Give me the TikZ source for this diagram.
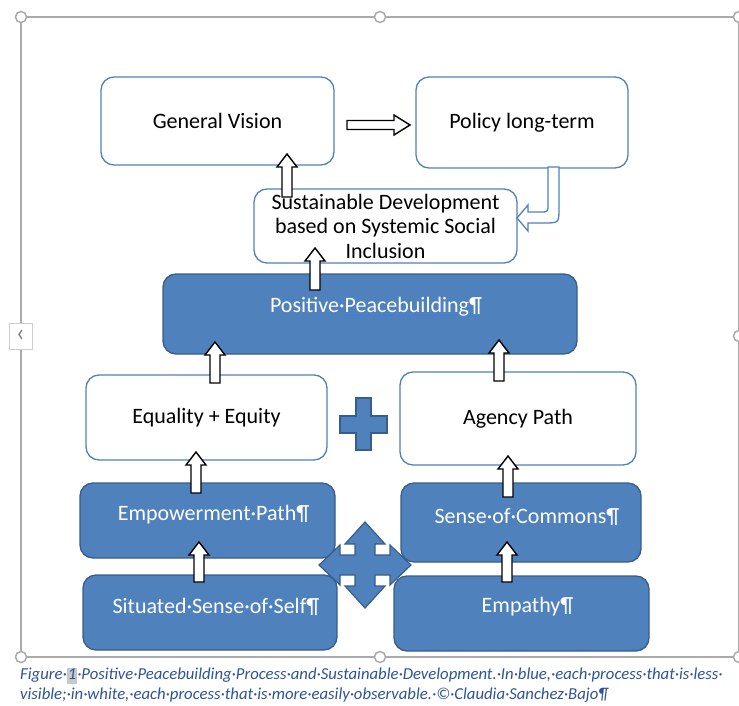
\documentclass[tikz,border=0pt]{standalone}
\usepackage{fontspec}
\setmainfont{Carlito}
\usetikzlibrary{positioning, calc}
\definecolor{procblue}{RGB}{79,129,189}
\definecolor{procedge}{RGB}{56,93,138}
\definecolor{framegray}{RGB}{171,171,171}
\definecolor{tabgray}{RGB}{205,205,205}
\definecolor{captionblue}{RGB}{46,84,150}
\definecolor{markgray}{RGB}{200,200,200}
\definecolor{markblue}{RGB}{70,120,225}
\newsavebox{\markbox}
\newcommand{\spellmark}[1]{\sbox{\markbox}{#1}\rlap{\color{markblue}\rule[-3pt]{\wd\markbox}{0.8pt}}\usebox{\markbox}}
\newcommand{\hlnum}[1]{{\setlength{\fboxsep}{1pt}\colorbox{markgray}{\vphantom{Fg}#1}}}
% block arrow pointing up, from a start coordinate to a tip coordinate
\newcommand{\blockup}[2]{%
  \draw[blockarrow] let \p1=(#1), \p2=(#2) in
    (\x1-5pt,\y1) -- (\x1-5pt,\y2-13pt) -- (\x1-10pt,\y2-13pt) -- (\x1,\y2)
    -- (\x1+10pt,\y2-13pt) -- (\x1+5pt,\y2-13pt) -- (\x1+5pt,\y1) -- cycle;}
% block arrow pointing right
\newcommand{\blockright}[2]{%
  \draw[blockarrow] let \p1=(#1), \p2=(#2) in
    (\x1,\y1+4.5pt) -- (\x2-16pt,\y1+4.5pt) -- (\x2-16pt,\y1+10pt) -- (\x2,\y1)
    -- (\x2-16pt,\y1-10pt) -- (\x2-16pt,\y1-4.5pt) -- (\x1,\y1-4.5pt) -- cycle;}
\tikzset{
x=1pt, y=-1pt, % screen pixels, y going down
every node/.style={font=\fontsize{22}{24.5}\selectfont, align=center},
openbox/.style={draw=procblue, line width=1.3pt, fill=white, rounded corners=13pt}, % easily observable process
hiddenbox/.style={draw=procedge, line width=1.3pt, fill=procblue, rounded corners=13pt}, % less visible process
boxtext/.style={text=white, xshift=6pt}, % text of a blue box
blockarrow/.style={draw=black, line width=1.4pt, fill=white},
procshape/.style={draw=procedge, line width=1.2pt, fill=procblue},
handle/.style={draw=framegray, line width=1.5pt, fill=white},
}
\begin{document}
\begin{tikzpicture}
\useasboundingbox (0,0) rectangle (739,706);

% selection frame with its handles
\draw[framegray, line width=1.5pt] (21,17) rectangle (739,657);
\foreach \hx/\hy in {21/17, 380/17, 739/17, 739/336, 21/657, 380/657, 739/657}
  \draw[handle] (\hx,\hy) circle[radius=5.5pt];
\node[draw=tabgray, fill=white, minimum width=23pt, minimum height=26pt, inner sep=0,
      text=gray, font=\fontsize{26}{26}\selectfont] (tab) at (20.5,336) {‹};

% top row
\node[openbox, minimum width=233pt, minimum height=88pt] (vision) at (217.5,121) {General Vision};
\node[openbox, minimum width=212pt, minimum height=91pt] (policy) at (522,122.5) {Policy long-term};
\node[openbox, minimum width=263pt, minimum height=74pt, inner sep=0] (sustain) at (385.5,226)
     {Sustainable Development\\based on Systemic Social\\Inclusion};

% positive peacebuilding
\node[hiddenbox, minimum width=414pt, minimum height=80pt,
      label={[boxtext, yshift=7pt]center:Positive·\spellmark{Peacebuilding}¶}] (peace) at (370,314) {};

% middle row
\node[openbox, minimum width=241pt, minimum height=85pt] (equal) at (206.5,417.5) {Equality + Equity};
\node[openbox, minimum width=236pt, minimum height=93pt] (agency) at (518,418.5) {Agency Path};
\draw[procshape] (356,398) -- (371,398) -- (371,416) -- (387,416) -- (387,433) -- (371,433)
  -- (371,450) -- (356,450) -- (356,433) -- (340,433) -- (340,416) -- (356,416) -- cycle;

% lower rows
\node[hiddenbox, minimum width=255pt, minimum height=75pt,
      label={[boxtext, yshift=5.5pt]center:Empowerment·Path¶}] (empower) at (207.5,520.5) {};
\node[hiddenbox, minimum width=240pt, minimum height=79pt,
      label={[boxtext, yshift=5.5pt]center:Sense·of·Commons¶}] (commons) at (521,522.5) {};
\node[hiddenbox, minimum width=254pt, minimum height=75pt,
      label={[boxtext, yshift=6pt]center:Situated·Sense·of·Self¶}] (self) at (210,612.5) {};
\node[hiddenbox, minimum width=255pt, minimum height=75pt,
      label={[boxtext, yshift=6.5pt]center:Empathy¶}] (empathy) at (521.5,613.5) {};
\draw[procshape, shift={(365,565)}] (0,-43) -- (20,-21) -- (10,-21) -- (10,-10) -- (25,-10) -- (25,-20)
  -- (46,0) -- (25,20) -- (25,10) -- (10,10) -- (10,21) -- (20,21) -- (0,43) -- (-20,21) -- (-10,21)
  -- (-10,10) -- (-25,10) -- (-25,20) -- (-46,0) -- (-25,-20) -- (-25,-10) -- (-10,-10) -- (-10,-21)
  -- (-20,-21) -- cycle;

% arrow ends
\coordinate (sustain-out) at (287,197);   \coordinate (vision-in) at (287,154);
\coordinate (peace-out) at (315,290);     \coordinate (sustain-in) at (315,248);
\coordinate (equal-out) at (215,383);     \coordinate (peace-inl) at (215,342);
\coordinate (agency-out) at (499,381);    \coordinate (peace-inr) at (499,340);
\coordinate (empower-out) at (196,493);   \coordinate (equal-in) at (196,452);
\coordinate (commons-out) at (508,497);   \coordinate (agency-in) at (508,456);
\coordinate (self-out) at (199,582);      \coordinate (empower-in) at (199,542);
\coordinate (empathy-out) at (507,582);   \coordinate (commons-in) at (507,542);
\coordinate (vision-out) at (347,125);    \coordinate (policy-in) at (410,125);
\coordinate (policy-out) at (553.5,167);  \coordinate (sustain-side) at (517,218);

\blockright{vision-out}{policy-in}
\blockup{sustain-out}{vision-in}
\blockup{peace-out}{sustain-in}
\blockup{equal-out}{peace-inl}
\blockup{agency-out}{peace-inr}
\blockup{empower-out}{equal-in}
\blockup{commons-out}{agency-in}
\blockup{self-out}{empower-in}
\blockup{empathy-out}{commons-in}
\draw[draw=procblue, line width=1.3pt, fill=white] let \p1=(policy-out), \p2=(sustain-side) in
  (\x1-5.5pt,\y1) -- (\x1-5.5pt,\y2+14pt) .. controls (\x1-5.5pt,\y2+6pt) .. (\x1-13.5pt,\y2+6pt)
  -- (\x2+11pt,\y2+6pt) -- (\x2+11pt,\y2+13pt) -- (\x2,\y2) -- (\x2+11pt,\y2-13pt)
  -- (\x2+11pt,\y2-5pt) -- (\x1-9.5pt,\y2-5pt) .. controls (\x1+5.5pt,\y2-5pt) .. (\x1+5.5pt,\y2+10pt)
  -- (\x1+5.5pt,\y1) -- cycle;

% caption
\node[anchor=west, align=left, inner sep=0, text=captionblue,
      font=\itshape\fontsize{16.7}{20}\selectfont] (caption) at (20,685.5)
  {Figure·\hlnum{1}·Positive·Peacebuilding·Process·and·Sustainable·Development.·In·blue,·each·process·that·is·less·\\
   visible;·in·white,·each·process·that·is·more·easily·observable.·©·Claudia·Sanchez·Bajo¶};
\end{tikzpicture}
\end{document}
